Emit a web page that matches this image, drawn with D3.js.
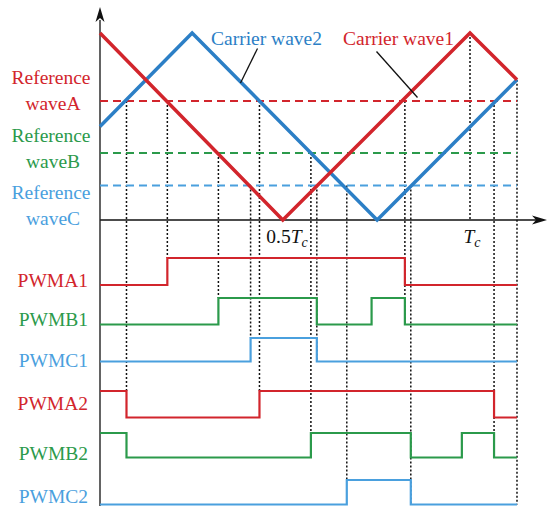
<!DOCTYPE html>
<html>
<head>
<meta charset="utf-8">
<script src="https://cdn.jsdelivr.net/npm/d3@7"></script>
<style>
  body { margin: 0; background: #fff; }
</style>
</head>
<body>
<svg id="chart" width="547" height="506" font-family="'Liberation Serif', 'DejaVu Serif', serif"></svg>
<script>
// time in units of Tc, carrier amplitude 0..1
const carrier1T = [0, 0.494, 1, 1.127],
    carrier1V = [1, 0, 1, 0.75],
    carrier2T = [0, 0.249, 0.749, 1.127],
    carrier2V = [0.5, 1, 0, 0.75];

const refNames = ['waveA', 'waveB', 'waveC'],
    refLevels = [0.636, 0.358, 0.184];

const pwmNames = ['PWMA1', 'PWMB1', 'PWMC1', 'PWMA2', 'PWMB2', 'PWMC2'],
    pwmStart = [0, 0, 0, 1, 1, 0],
    pwmEdges = [
        [0.182, 0.824],
        [0.320, 0.586, 0.734, 0.824],
        [0.407, 0.586],
        [0.0716, 0.431, 1.065],
        [0.0716, 0.570, 0.840, 0.978, 1.065],
        [0.667, 0.840]
    ];

// dotted guides: time, level where they start, pwm row + state where they stop
const guideT = [0.0716, 0.182, 0.320, 0.407, 0.431, 0.570, 0.586, 0.667, 0.824, 0.840, 1.065, 1.127],
    guideFrom = [0.636, 0.636, 0.358, 0.184, 0.636, 0.358, 0.184, 0.184, 0.636, 0.184, 0.636, 0.75],
    guideRow = [3, 0, 1, 2, 3, 4, 2, 5, 1, 5, 4, 5],
    guideState = [1, 1, 1, 1, 1, 1, 0, 1, 0, 0, 0, 0];

const tickT = [0.5, 1];

const red = '#d2252c', green = '#2b9a4b', blue = '#2c7fc6', lightBlue = '#4aa0de';
const refColors = [red, green, lightBlue],
    pwmColors = [red, green, lightBlue, red, green, lightBlue];

// layout of the pwm rows
const rowLow = [285, 324.5, 361.5, 417.5, 457.5, 504.5],
    rowHigh = [258, 298, 338, 391, 433, 480],
    rowLabelY = [286.5, 326, 366.5, 410, 460, 503];

const svg = d3.select('#chart');
const tEnd = 1.127;
const fontFamily = "'Liberation Serif', 'DejaVu Serif', serif";

const x = d3.scaleLinear().domain([0, 1]).range([100, 470]);
const y = d3.scaleLinear().domain([0, 1]).range([220, 33]);

// dotted guides
svg.append('g')
    .selectAll('line')
    .data(guideT)
    .enter()
    .append('line')
    .attr('x1', (t) => x(t))
    .attr('x2', (t) => x(t))
    .attr('y1', (t, i) => y(guideFrom[i]))
    .attr('y2', (t, i) => guideState[i] ? rowHigh[guideRow[i]] : rowLow[guideRow[i]])
    .attr('stroke', '#111')
    .attr('stroke-width', 1.5)
    .attr('stroke-dasharray', '2,2');

svg.append('line')
    .attr('x1', x(1)).attr('x2', x(1))
    .attr('y1', y(1)).attr('y2', y(0))
    .attr('stroke', '#111')
    .attr('stroke-width', 1.5)
    .attr('stroke-dasharray', '2,2');

// axes
svg.append('line')
    .attr('x1', x(0)).attr('x2', 536)
    .attr('y1', y(0)).attr('y2', y(0))
    .attr('stroke', '#111').attr('stroke-width', 1.4);
svg.append('path')
    .attr('d', `M547,${y(0)} L532,${y(0) - 4.5} L536,${y(0)} L532,${y(0) + 4.5} Z`)
    .attr('fill', '#111');

svg.append('line')
    .attr('x1', x(0)).attr('x2', x(0))
    .attr('y1', 20).attr('y2', 506)
    .attr('stroke', '#222').attr('stroke-width', 1.4);
svg.append('path')
    .attr('d', `M${x(0)},7 L${x(0) - 4.5},22 L${x(0)},18 L${x(0) + 4.5},22 Z`)
    .attr('fill', '#111');

// reference waves
svg.append('g')
    .selectAll('line')
    .data(refLevels)
    .enter()
    .append('line')
    .attr('x1', x(0))
    .attr('x2', x(tEnd))
    .attr('y1', (v) => y(v))
    .attr('y2', (v) => y(v))
    .attr('stroke', (v, i) => refColors[i])
    .attr('stroke-width', 2)
    .attr('stroke-dasharray', '8,5');

// carriers
const line = d3.line()
    .x((d) => x(d[0]))
    .y((d) => y(d[1]));

svg.append('path')
    .attr('d', line(d3.zip(carrier2T, carrier2V)))
    .attr('fill', 'none')
    .attr('stroke', blue)
    .attr('stroke-width', 3.5);

svg.append('path')
    .attr('d', line(d3.zip(carrier1T, carrier1V)))
    .attr('fill', 'none')
    .attr('stroke', red)
    .attr('stroke-width', 3.5);

// pwm traces
pwmNames.forEach(function(name, i){
    let state = pwmStart[i];
    const pts = [[0, state]];
    pwmEdges[i].forEach(function(t){
        pts.push([t, state]);
        state = 1 - state;
        pts.push([t, state]);
    });
    pts.push([tEnd, state]);

    const row = d3.scaleLinear().domain([0, 1]).range([rowLow[i], rowHigh[i]]);

    svg.append('path')
        .attr('d', d3.line().x((d) => x(d[0])).y((d) => row(d[1]))(pts))
        .attr('fill', 'none')
        .attr('stroke', pwmColors[i])
        .attr('stroke-width', 2.2);

    svg.append('text')
        .attr('x', 88)
        .attr('y', rowLabelY[i])
        .attr('text-anchor', 'end')
        .attr('fill', pwmColors[i])
        .attr('font-family', fontFamily)
        .attr('font-size', 19.5)
        .text(name);
});

// reference labels
const refLabelY = [84, 141.5, 198.5];
refNames.forEach(function(name, i){
    const t = svg.append('text')
        .attr('text-anchor', 'middle')
        .attr('fill', refColors[i])
        .attr('font-family', fontFamily)
        .attr('font-size', 19.5);
    t.append('tspan').attr('x', 51).attr('y', refLabelY[i]).text('Reference');
    t.append('tspan').attr('x', 53).attr('y', refLabelY[i] + 26).text(name);
});

// carrier labels with leaders
svg.append('text')
    .attr('x', 211).attr('y', 45)
    .attr('fill', blue)
    .attr('font-family', fontFamily)
    .attr('font-size', 19.5)
    .text('Carrier wave2');
svg.append('line')
    .attr('x1', 257.5).attr('y1', 48.5)
    .attr('x2', 240.5).attr('y2', 83)
    .attr('stroke', '#111').attr('stroke-width', 1.3);

svg.append('text')
    .attr('x', 343).attr('y', 45)
    .attr('fill', red)
    .attr('font-family', fontFamily)
    .attr('font-size', 19.5)
    .text('Carrier wave1');
svg.append('line')
    .attr('x1', 376.5).attr('y1', 51.5)
    .attr('x2', 417.5).attr('y2', 97.5)
    .attr('stroke', '#111').attr('stroke-width', 1.3);

// time ticks
svg.append('g')
    .selectAll('text')
    .data(tickT)
    .enter()
    .append('text')
    .attr('x', (t) => x(t) + 2)
    .attr('y', 243)
    .attr('text-anchor', 'middle')
    .attr('fill', '#111')
    .attr('font-family', fontFamily)
    .attr('font-size', 19.5)
    .each(function(t){
        const el = d3.select(this);
        if (t !== 1) el.append('tspan').text(`${t}`);
        el.append('tspan').attr('font-style', 'italic').text('T');
        el.append('tspan').attr('font-style', 'italic').attr('font-size', 14)
            .attr('dy', 4).text('c');
    });
</script>
</body>
</html>
